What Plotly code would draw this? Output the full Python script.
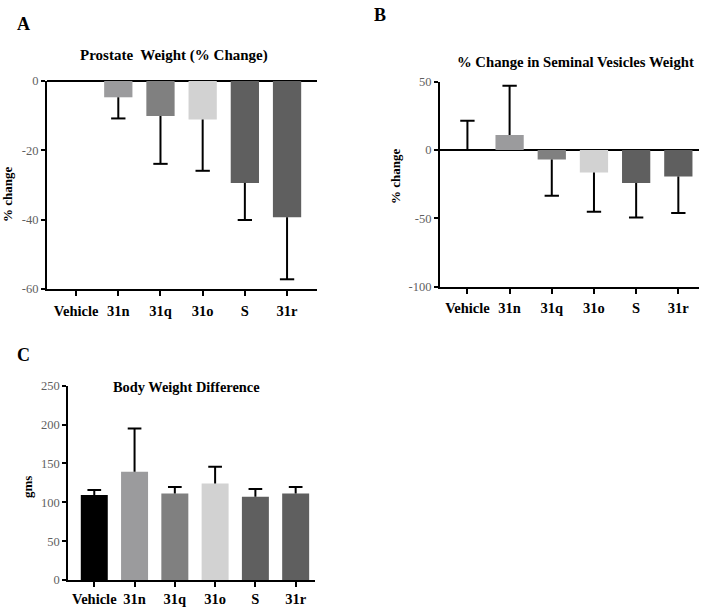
import plotly.graph_objects as go

# ---------------- data ----------------
categories = ["Vehicle", "31n", "31q", "31o", "S", "31r"]
bar_colors = ["#000000", "#9b9b9d", "#808080", "#d2d2d2", "#5f5f5f", "#5f5f5f"]

prostate_values = [0, -4.7, -10.1, -11.1, -29.4, -39.3]
prostate_errors = [0, 6.1, 13.8, 14.8, 10.7, 17.9]

seminal_values = [0, 11.0, -7.0, -16.4, -24.2, -19.3]
seminal_errors = [21.5, 36.0, 26.4, 28.8, 25.1, 26.8]

body_values = [109.3, 139.2, 111.4, 124.3, 107.0, 111.4]
body_errors = [6.4, 55.8, 8.2, 21.4, 10.0, 8.2]

prostate_ticks = [0, -20, -40, -60]
seminal_ticks = [50, 0, -50, -100]
body_ticks = [0, 50, 100, 150, 200, 250]

W, H = 708, 612
SERIF = "Liberation Serif"
TICKGREY = "#5f5f5f"

fig = go.Figure()
xpos = list(range(len(categories)))
CAP = 0.17


def add_panel(values, errors, xa, ya):
    fig.add_trace(go.Bar(
        x=xpos, y=values, width=0.67,
        marker=dict(color=bar_colors, line=dict(width=0)),
        xaxis=xa, yaxis=ya, showlegend=False, hoverinfo="skip"))
    ex, ey = [], []
    for i, (v, e) in enumerate(zip(values, errors)):
        if e == 0:
            continue
        d = -1 if v < 0 else 1
        tip = v + d * e
        ex += [i, i, None, i - CAP, i + CAP, None]
        ey += [v, tip, None, tip, tip, None]
    fig.add_trace(go.Scatter(
        x=ex, y=ey, mode="lines", line=dict(color="black", width=2),
        xaxis=xa, yaxis=ya, showlegend=False, hoverinfo="skip"))


add_panel(prostate_values, prostate_errors, "x", "y")
add_panel(seminal_values, seminal_errors, "x2", "y2")
add_panel(body_values, body_errors, "x3", "y3")


def xaxis_def(domain, rng, anchor, standoff):
    return dict(domain=domain, range=rng, anchor=anchor,
                tickmode="array", tickvals=xpos, ticktext=categories,
                showline=True, linecolor="black", linewidth=2,
                ticks="outside", ticklen=5, tickwidth=2, tickcolor="black",
                ticklabelstandoff=standoff,
                tickfont=dict(family=SERIF, size=14.5, color="black", weight="bold"),
                showgrid=False, zeroline=False, fixedrange=True)


def yaxis_def(domain, rng, anchor, ticks, zeroline):
    return dict(domain=domain, range=rng, anchor=anchor,
                tickmode="array", tickvals=ticks, ticktext=[str(t) for t in ticks],
                showline=True, linecolor="black", linewidth=2,
                ticks="outside", ticklen=4, tickwidth=2, tickcolor="black",
                tickfont=dict(family=SERIF, size=12.5, color=TICKGREY),
                showgrid=False, zeroline=zeroline, zerolinecolor="black",
                zerolinewidth=2, fixedrange=True)


def px_x(a, b):
    return [a / W, b / W]


def px_y(top, bottom):
    return [1 - bottom / H, 1 - top / H]


fig.update_layout(
    width=W, height=H,
    margin=dict(l=0, r=0, t=0, b=0, autoexpand=False),
    paper_bgcolor="white", plot_bgcolor="white",
    barmode="overlay",
    xaxis=xaxis_def(px_x(47, 317), [-0.69, 5.71], "y", 3),
    yaxis=yaxis_def(px_y(81, 289), [-60, 0], "x", prostate_ticks, True),
    xaxis2=xaxis_def(px_x(440, 699), [-0.65, 5.49], "y2", 2),
    yaxis2=yaxis_def(px_y(81.7, 286.7), [-100, 50], "x2", seminal_ticks, True),
    xaxis3=xaxis_def(px_x(68.3, 315), [-0.645, 5.48], "y3", 0),
    yaxis3=yaxis_def(px_y(385.7, 580), [0, 250], "x3", body_ticks, False),
)


def ann(text, x, y, size, angle=0):
    fig.add_annotation(text=text, x=x / W, y=1 - y / H, xref="paper", yref="paper",
                       showarrow=False, xanchor="center", yanchor="middle",
                       textangle=angle,
                       font=dict(family=SERIF, size=size, color="black", weight="bold"))


ann("A", 23, 24, 18)
ann("B", 380, 15, 18)
ann("C", 23, 355, 18)
ann("Prostate  Weight (% Change)", 174, 55, 15)
ann("% Change in Seminal Vesicles Weight", 575, 62, 14.7)
ann("Body Weight Difference", 186, 387, 14.4)
ann("% change", 7, 195, 13, -90)
ann("% change", 395, 177, 13, -90)
ann("gms", 28, 487, 13, -90)

fig.write_html(
    "out.html",
    config={"displayModeBar": False, "staticPlot": True},
    post_script="document.body.style.margin='0';document.body.style.overflow='hidden';",
)
